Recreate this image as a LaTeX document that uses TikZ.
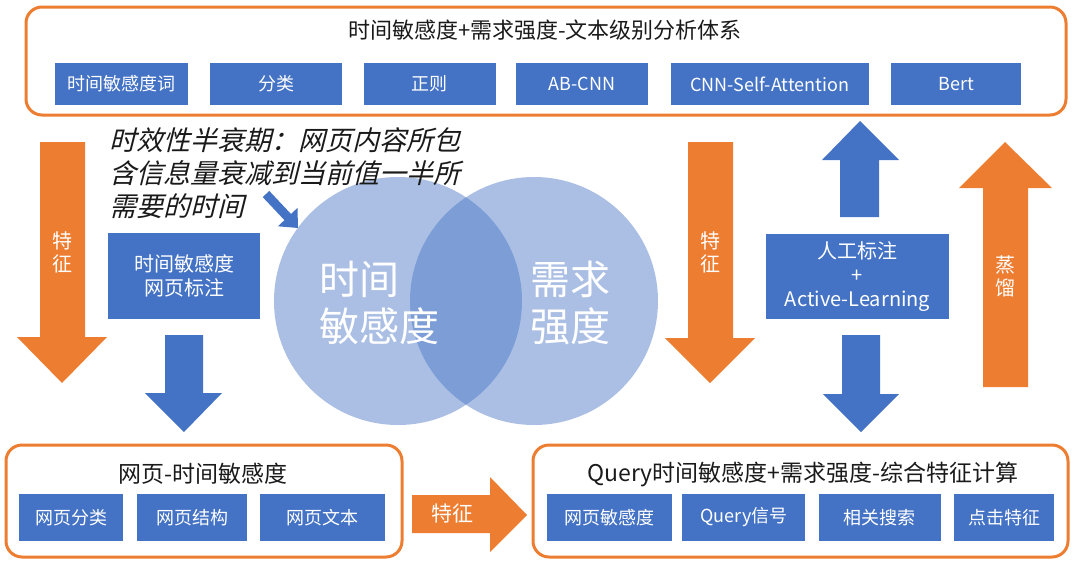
\documentclass[tikz,border=0pt]{standalone}
\usepackage{fontspec}
\setmainfont{Noto Sans CJK SC}
\newfontfamily\slantcjk[FakeSlant=0.25]{Noto Sans CJK SC}
\usetikzlibrary{positioning,arrows.meta}
\definecolor{boxblue}{HTML}{4472C4}
\definecolor{arrorange}{HTML}{ED7D31}
\definecolor{inkblack}{HTML}{1A1A1A}

\begin{document}
\begin{tikzpicture}[x=1pt,y=-1pt,
    frame/.style={draw=arrorange, line width=3pt, rounded corners=16pt},
    title/.style={text=inkblack, font=\fontsize{22}{25}\selectfont},
    bigtitle/.style={text=inkblack, font=\fontsize{23}{26}\selectfont},
    item/.style={fill=boxblue, text=white, inner sep=0pt, minimum height=42pt,
                 font=\fontsize{18}{20}\selectfont},
    subitem/.style={item, minimum height=47pt},
    markbox/.style={fill=boxblue, text=white, inner sep=0pt, align=center,
                 font=\fontsize{20}{24}\selectfont},
    arrowtext/.style={text=white, align=center, font=\fontsize{20}{23}\selectfont},
    bigword/.style={text=white, align=left, anchor=west, font=\fontsize{40}{47}\selectfont},
    venn/.style={fill=boxblue, fill opacity=0.45}]
  \useasboundingbox (0,0) rectangle (1080,566);

  % top frame
  \draw[frame] (26,7) rectangle (1066,115);
  \node[title] (toptitle) at (545,30) {时间敏感度+需求强度-文本级别分析体系};
  \node[item, minimum width=133pt] (t1) at (121.5,84) {时间敏感度词};
  \node[item, minimum width=132pt, right=22pt of t1] (t2) {分类};
  \node[item, minimum width=132pt, right=21pt of t2] (t3) {正则};
  \node[item, minimum width=132pt, right=20pt of t3] (t4) {AB-CNN};
  \node[item, minimum width=198pt, right=22pt of t4] (t5) {CNN-Self-Attention};
  \node[item, minimum width=130pt, right=22pt of t5] (t6) {Bert};

  % venn
  \fill[venn] (398,301) circle (124);
  \fill[venn] (534,301) circle (124);
  \node[bigword] (timeword) at (316,303) {时间\\敏感度};
  \node[bigword] (needword) at (527,303) {需求\\强度};

  % note
  \node[anchor=west, align=left, text=inkblack, font=\slantcjk\fontsize{27}{33}\selectfont]
    (note) at (106,173) {时效性半衰期：网页内容所包\\含信息量衰减到当前值一半所\\需要的时间};
  \coordinate (notefrom) at (266,194);
  \coordinate (noteto) at (298,228);
  \draw[boxblue, line width=9pt, -{Triangle[length=15pt,width=26pt]}] (notefrom) -- (noteto);

  % left side
  \fill[arrorange] (40,142) -- (85,142) -- (85,337) -- (107,337) -- (62,383)
    -- (17,337) -- (40,337) -- cycle;
  \node[arrowtext] (feat1) at (62,252) {特\\征};
  \node[markbox, minimum width=152pt, minimum height=86pt] (webmark) at (184,276)
    {时间敏感度\\网页标注};
  \fill[boxblue] (165,335) -- (203,335) -- (203,393) -- (222,393) -- (184,432)
    -- (145,393) -- (165,393) -- cycle;

  % right side
  \fill[arrorange] (688,142) -- (733,142) -- (733,338) -- (755,338) -- (710,383)
    -- (665,338) -- (688,338) -- cycle;
  \node[arrowtext] (feat2) at (710,252) {特\\征};
  \node[markbox, minimum width=183pt, minimum height=85pt] (humanmark) at (857.5,276.5)
    {人工标注\\+\\Active-Learning};
  \fill[boxblue] (840,217) -- (879,217) -- (879,160) -- (899,160) -- (860,121)
    -- (822,160) -- (840,160) -- cycle;
  \fill[boxblue] (842,335) -- (880,335) -- (880,394) -- (899,394) -- (861,432)
    -- (823,394) -- (842,394) -- cycle;
  \fill[arrorange] (983,387) -- (1028,387) -- (1028,188) -- (1052,188) -- (1005,142)
    -- (959,188) -- (983,188) -- cycle;
  \node[arrowtext] (distill) at (1005,276) {蒸\\馏};

  % bottom left frame
  \draw[frame] (6,445) rectangle (402,557);
  \node[bigtitle] (webtitle) at (203,474) {网页-时间敏感度};
  \node[subitem, minimum width=104pt] (b1) at (71,517.5) {网页分类};
  \node[subitem, minimum width=110pt, right=14pt of b1] (b2) {网页结构};
  \node[subitem, minimum width=125pt, right=12pt of b2] (b3) {网页文本};

  % bottom arrow
  \fill[arrorange] (412,495) -- (490,495) -- (490,477) -- (527,515) -- (490,552)
    -- (490,533) -- (412,533) -- cycle;
  \node[arrowtext, font=\fontsize{21}{24}\selectfont] (feat3) at (452,514) {特征};

  % bottom right frame
  \draw[frame] (533,445) rectangle (1068,557);
  \node[bigtitle] (querytitle) at (803,474) {Query时间敏感度+需求强度-综合特征计算};
  \node[subitem, minimum width=125pt] (r1) at (609.5,517.5) {网页敏感度};
  \node[subitem, minimum width=123pt, right=10pt of r1] (r2) {Query信号};
  \node[subitem, minimum width=122pt, right=13pt of r2] (r3) {相关搜索};
  \node[subitem, minimum width=100pt, right=13pt of r3] (r4) {点击特征};
\end{tikzpicture}
\end{document}
